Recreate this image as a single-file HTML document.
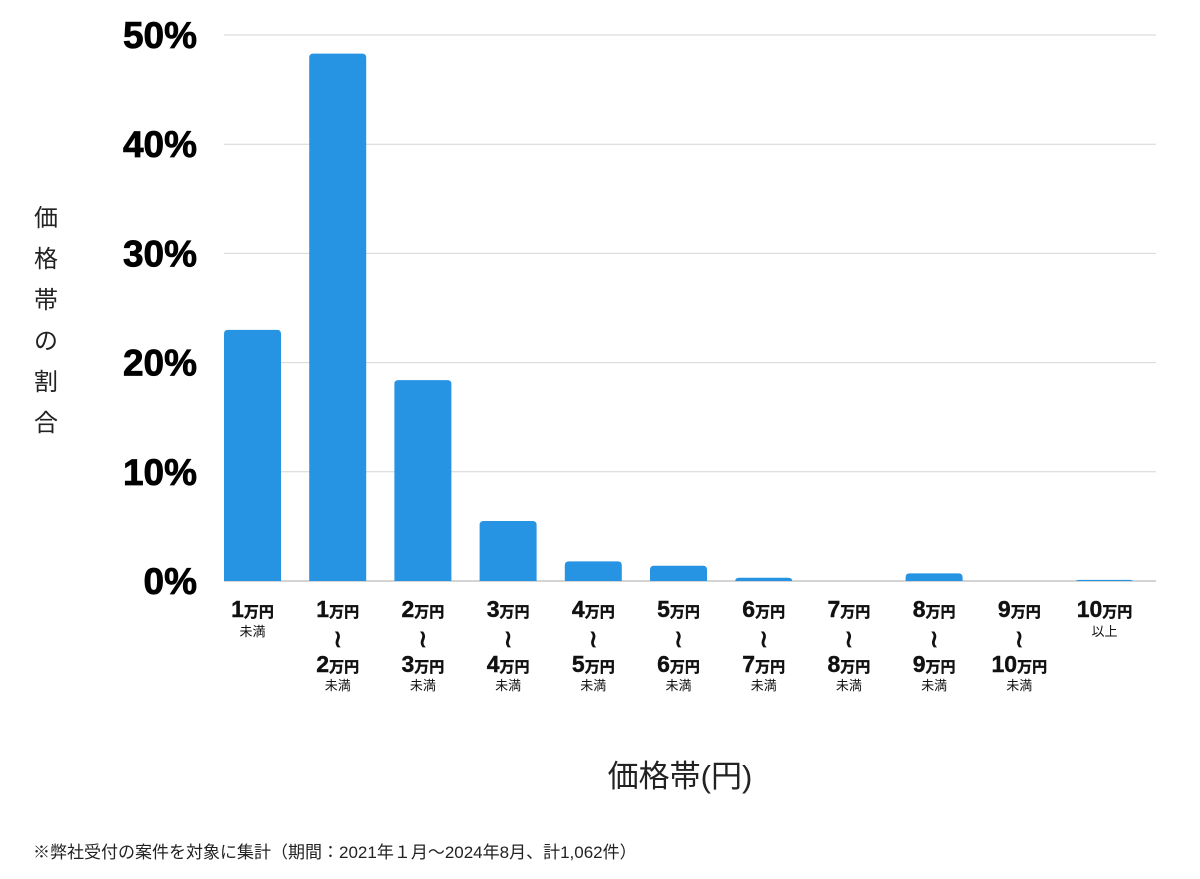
<!DOCTYPE html>
<html><head><meta charset="utf-8"><style>
body{margin:0;background:#fff;width:1200px;height:874px;overflow:hidden;font-family:"Liberation Sans","Noto Sans CJK JP",sans-serif}
</style></head><body>
<svg id="chart" width="1200" height="874" xmlns="http://www.w3.org/2000/svg" font-family="'Liberation Sans','Noto Sans CJK JP',sans-serif">
<g id="grid"></g><g id="bars"></g><g id="yticks"></g><g id="xlabels"></g>
<g font-size="24" fill="#222" text-anchor="middle">
<text x="46" y="226">価</text><text x="46" y="267">格</text><text x="46" y="308">帯</text><text x="46" y="349">の</text><text x="46" y="390">割</text><text x="46" y="431">合</text>
</g>
<text x="680" y="787" font-size="31" text-anchor="middle" fill="#222">価格帯(円)</text>
<text x="33" y="858" font-size="17" fill="#222">※弊社受付の案件を対象に集計（期間：2021年１月～2024年8月、計1,062件）</text>
</svg>
<script>
const categories=[["1","未満"],["1","2"],["2","3"],["3","4"],["4","5"],["5","6"],["6","7"],["7","8"],["8","9"],["9","10"],["10","以上"]];
const values=[23.0,48.3,18.4,5.5,1.8,1.4,0.3,0,0.7,0,0.1];
const yTicks=[0,10,20,30,40,50];
const NS="http://www.w3.org/2000/svg";
const x0=224,x1=1156,y0=581,yTop=35,yMax=50,step=85.2,bw=57;
const ys=v=>y0-(v/yMax)*(y0-yTop);
const xs=i=>x0+step*i;
function mk(t,a,p){const e=document.createElementNS(NS,t);for(const k in a)e.setAttribute(k,a[k]);p.appendChild(e);return e;}
const grid=document.getElementById('grid'),bars=document.getElementById('bars'),yt=document.getElementById('yticks'),xl=document.getElementById('xlabels');
yTicks.forEach(v=>{
 const l=mk('line',{x1:x0,x2:x1,y1:ys(v),y2:ys(v),stroke:v===0?'#aaa':'#d6d6d6','stroke-width':1},grid);
 
 
 const t=mk('text',{x:197,y:ys(v)+13,'font-size':37,'font-weight':'bold','text-anchor':'end',fill:'#000',stroke:'#000','stroke-width':0.8},yt);
 t.textContent=v+'%';
 
 
});
values.forEach((v,i)=>{
 if(v>0){const h=y0-ys(v);
 const r=mk('path',{d:`M${xs(i)},${y0}V${ys(v)+Math.min(4,h)}Q${xs(i)},${ys(v)} ${xs(i)+4},${ys(v)}H${xs(i)+bw-4}Q${xs(i)+bw},${ys(v)} ${xs(i)+bw},${ys(v)+Math.min(4,h)}V${y0}Z`,fill:'#2793e3'},bars);
 
 }
 const c=categories[i],cx=xs(i)+bw/2;
 const g=mk('g',{'text-anchor':'middle',fill:'#111'},xl);
 
 
 const t1=mk('text',{x:cx,y:617,'font-weight':'bold',stroke:'#111','stroke-width':0.4},g);
 t1.innerHTML=`<tspan font-size="23">${c[0]}</tspan><tspan font-size="15">万円</tspan>`;
 if(c[1]==='未満'||c[1]==='以上'){mk('text',{x:cx,y:636,'font-size':13},g).textContent=c[1];}
 else{
  mk('text',{x:cx,y:647,'font-size':24,'font-weight':'bold'},g).textContent='≀';
  const t3=mk('text',{x:cx,y:672,'font-weight':'bold',stroke:'#111','stroke-width':0.4},g);
  t3.innerHTML=`<tspan font-size="23">${c[1]}</tspan><tspan font-size="15">万円</tspan>`;
  mk('text',{x:cx,y:690,'font-size':13},g).textContent='未満';
 }
});
</script>
</body></html>
